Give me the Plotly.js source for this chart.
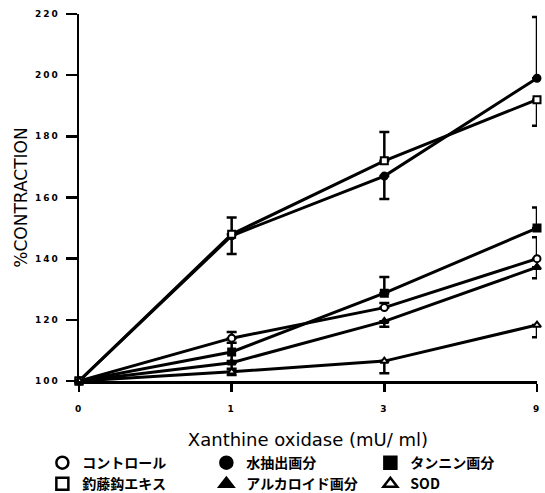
<!DOCTYPE html>
<html>
<head>
<meta charset="utf-8">
<script src="https://cdn.plot.ly/plotly-3.0.1.min.js"></script>
<style>
html,body{margin:0;padding:0;background:#fff;}
.xtick text, .ytick text { letter-spacing: 2px; }
</style>
</head>
<body>
<div id="chart" style="width:545px;height:493px;"></div>
<script>
// ---- data ----
const doses = ['0', '1', '3', '9'];
const names = ['コントロール', '水抽出画分', 'タンニン画分', '釣藤鈎エキス', 'アルカロイド画分', 'SOD'];

const control   = [100, 114, 124, 140];
const water     = [100, 147.5, 167, 199];
const tannin    = [100, 109.5, 128.7, 150];
const chotoko   = [100, 148, 172, 192];
const alkaloid  = [100, 106, 119.5, 137.2];
const sod       = [100, 103, 106.5, 118.3];

const controlErrUp   = [0, 2, 1.5, 7];
const controlErrDown = [0, 0, 0, 0];
const waterErrUp     = [0, 6, 0, 20];
const waterErrDown   = [0, 6, 7.5, 0];
const tanninErrUp    = [0, 3, 5.3, 6.7];
const tanninErrDown  = [0, 3, 0, 0];
const chotokoErrUp   = [0, 0, 9.4, 0];
const chotokoErrDown = [0, 0, 0, 8.5];
const alkaloidErrUp   = [0, 0, 0, 0];
const alkaloidErrDown = [0, 2, 1.8, 3.6];
const sodErrUp   = [0, 0, 0, 0];
const sodErrDown = [0, 1, 4, 4];

// ---- styles ----
const series = [
  {y: control,  up: controlErrUp,  dn: controlErrDown,  sym: 'circle',        fill: '#fff'},
  {y: water,    up: waterErrUp,    dn: waterErrDown,    sym: 'circle',        fill: '#000'},
  {y: tannin,   up: tanninErrUp,   dn: tanninErrDown,   sym: 'square',        fill: '#000'},
  {y: chotoko,  up: chotokoErrUp,  dn: chotokoErrDown,  sym: 'square',        fill: '#fff'},
  {y: alkaloid, up: alkaloidErrUp, dn: alkaloidErrDown, sym: 'triangle-up',   fill: '#000'},
  {y: sod,      up: sodErrUp,      dn: sodErrDown,      sym: 'triangle-up',   fill: '#fff'}
];

const traces = [];
series.forEach((s, i) => {
  traces.push({
    type: 'scatter', mode: 'lines+markers', x: doses, y: s.y,
    name: names[i], showlegend: false, cliponaxis: false,
    line: {color: '#000', width: 3},
    marker: {symbol: s.sym, size: 7, color: s.fill, line: {color: '#000', width: 2}},
    error_y: {type: 'data', symmetric: false, array: s.up, arrayminus: s.dn,
              color: '#000', thickness: 2.5, width: 5}
  });
});
// legend entries (markers only)
series.forEach((s, i) => {
  traces.push({
    type: 'scatter', mode: 'markers', x: [null], y: [null],
    name: names[i], showlegend: true,
    marker: {symbol: s.sym, size: 12, color: s.fill, line: {color: '#000', width: 2.5}}
  });
});

const tickFont = {family: 'DejaVu Sans', size: 9, color: '#000', weight: 'bold'};

const layout = {
  width: 545, height: 493,
  margin: {l: 79, r: 8, t: 14, b: 112, autoexpand: false},
  paper_bgcolor: '#fff', plot_bgcolor: '#fff',
  showlegend: true,
  xaxis: {
    type: 'category', range: [0, 3], automargin: false,
    showgrid: false, zeroline: false,
    showline: true, linecolor: '#000', linewidth: 2.5,
    ticks: 'outside', ticklen: 8, tickwidth: 2.5, tickcolor: '#000',
    ticklabelstandoff: 10,
    tickfont: tickFont,
    title: {text: 'Xanthine oxidase (mU/ ml)', font: {family: 'DejaVu Sans', size: 18, color: '#000'}, standoff: 20}
  },
  yaxis: {
    range: [100, 220], tickvals: [100, 120, 140, 160, 180, 200, 220], automargin: false,
    showgrid: false, zeroline: false,
    showline: true, linecolor: '#000', linewidth: 2.5,
    ticks: 'outside', ticklen: 11, tickwidth: 2.5, tickcolor: '#000',
    ticklabelstandoff: 4,
    tickfont: tickFont,
    title: {text: '%CONTRACTION', font: {family: 'DejaVu Sans', size: 17, color: '#000'}, standoff: 3}
  },
  legend: {
    orientation: 'h', x: -0.08, xanchor: 'left', y: -0.180, yanchor: 'top',
    entrywidth: 119, entrywidthmode: 'pixels',
    font: {family: 'Noto Sans CJK JP', size: 14, color: '#000', weight: 'bold'},
    bgcolor: 'rgba(0,0,0,0)', itemclick: false
  }
};

Plotly.newPlot('chart', traces, layout, {displayModeBar: false, staticPlot: true});
</script>
</body>
</html>
